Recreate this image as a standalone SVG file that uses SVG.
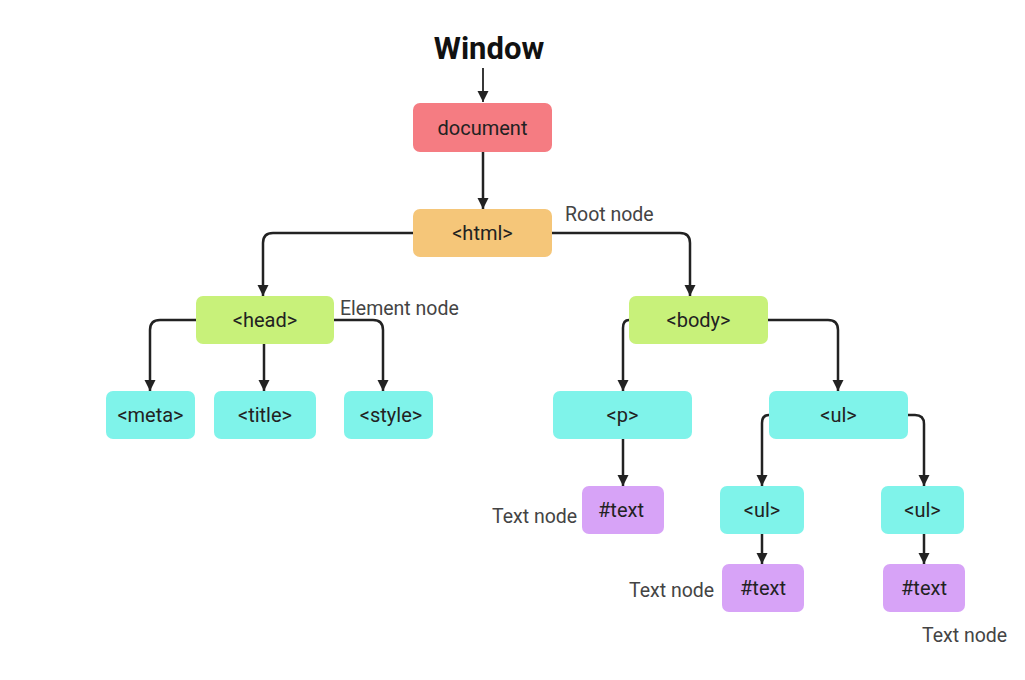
<svg xmlns="http://www.w3.org/2000/svg" width="1025" height="680" viewBox="0 0 1025 680">
<defs>
<style>
.box{stroke:none}
.doc{fill:#f57c82}
.html{fill:#f5c679}
.el{fill:#c8f17a}
.leaf{fill:#7ff3ea}
.txt{fill:#d7a3f7}
.lbl{font-family:Roboto,"Liberation Sans",sans-serif;font-size:20px;fill:#222;text-anchor:middle}
.note{font-family:Roboto,"Liberation Sans",sans-serif;font-size:19.5px;fill:#444}
.conn path{fill:none;stroke:#222;stroke-width:2.5}
</style>
<marker id="ah" viewBox="0 0 12 12" refX="12" refY="6" markerWidth="11" markerHeight="13" markerUnits="userSpaceOnUse" orient="auto">
<path d="M0,0 L12,6 L0,12 z" fill="#222"/>
</marker>
</defs>
<rect width="1025" height="680" fill="#ffffff"/>
<text x="489" y="59" font-family="Roboto,'Liberation Sans',sans-serif" font-size="31" font-weight="bold" fill="#111" text-anchor="middle">Window</text>
<g class="conn">
<path d="M483,68 V102" style="stroke-width:1.8" marker-end="url(#ah)"/>
<path d="M483,152 V209" marker-end="url(#ah)"/>
<path d="M413,233 H273 Q263,233 263,243 V296" marker-end="url(#ah)"/>
<path d="M552,233 H680 Q690,233 690,243 V296" marker-end="url(#ah)"/>
<path d="M196,320 H160 Q150,320 150,330 V391" marker-end="url(#ah)"/>
<path d="M264,344 V391" marker-end="url(#ah)"/>
<path d="M334,320 H373 Q383,320 383,330 V391" marker-end="url(#ah)"/>
<path d="M629,320 Q623,320 623,328 V391" marker-end="url(#ah)"/>
<path d="M768,320 H828 Q838,320 838,330 V391" marker-end="url(#ah)"/>
<path d="M623,439 V486" marker-end="url(#ah)"/>
<path d="M769,415 Q762,415 762,423 V486" marker-end="url(#ah)"/>
<path d="M908,415 H915 Q924,415 924,424 V486" marker-end="url(#ah)"/>
<path d="M762,534 V564" marker-end="url(#ah)"/>
<path d="M924,534 V564" marker-end="url(#ah)"/>
</g>
<g id="document"><rect class="box doc" x="413" y="103" width="139" height="49" rx="7"/><text class="lbl" x="482.5" y="135">document</text></g>
<g id="html"><rect class="box html" x="413" y="209" width="139" height="48" rx="7"/><text class="lbl" x="482.5" y="240">&lt;html&gt;</text></g>
<g id="head"><rect class="box el" x="196" y="296" width="138" height="48" rx="7"/><text class="lbl" x="265" y="327">&lt;head&gt;</text></g>
<g id="body"><rect class="box el" x="629" y="296" width="139" height="48" rx="7"/><text class="lbl" x="698.5" y="327">&lt;body&gt;</text></g>
<g id="meta"><rect class="box leaf" x="106" y="391" width="89" height="48" rx="7"/><text class="lbl" x="150.5" y="422">&lt;meta&gt;</text></g>
<g id="title"><rect class="box leaf" x="214" y="391" width="102" height="48" rx="7"/><text class="lbl" x="265" y="422">&lt;title&gt;</text></g>
<g id="style"><rect class="box leaf" x="344" y="391" width="89" height="48" rx="7"/><text class="lbl" x="391" y="422">&lt;style&gt;</text></g>
<g id="p"><rect class="box leaf" x="553" y="391" width="139" height="48" rx="7"/><text class="lbl" x="622.5" y="422">&lt;p&gt;</text></g>
<g id="ul"><rect class="box leaf" x="769" y="391" width="139" height="48" rx="7"/><text class="lbl" x="838.5" y="422">&lt;ul&gt;</text></g>
<g id="text1"><rect class="box txt" x="582" y="486" width="82" height="48" rx="7"/><text class="lbl" x="621" y="517">#text</text></g>
<g id="ul2"><rect class="box leaf" x="720" y="486" width="84" height="48" rx="7"/><text class="lbl" x="762" y="517">&lt;ul&gt;</text></g>
<g id="ul3"><rect class="box leaf" x="881" y="486" width="83" height="48" rx="7"/><text class="lbl" x="922.5" y="517">&lt;ul&gt;</text></g>
<g id="text2"><rect class="box txt" x="722" y="564" width="82" height="48" rx="7"/><text class="lbl" x="763" y="595">#text</text></g>
<g id="text3"><rect class="box txt" x="883" y="564" width="82" height="48" rx="7"/><text class="lbl" x="924" y="595">#text</text></g>
<text class="note" x="565" y="221">Root node</text>
<text class="note" x="340" y="315">Element node</text>
<text class="note" x="492" y="523">Text node</text>
<text class="note" x="629" y="597">Text node</text>
<text class="note" x="922" y="642">Text node</text>
</svg>
